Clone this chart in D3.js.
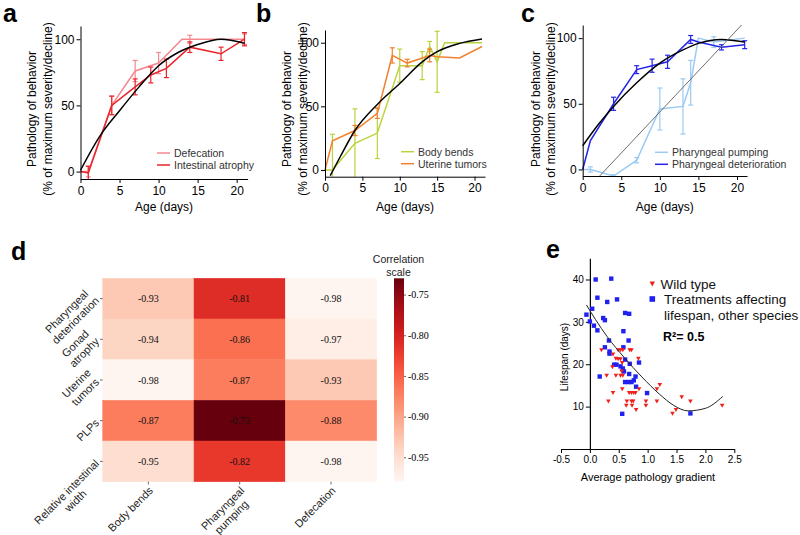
<!DOCTYPE html>
<html>
<head>
<meta charset="utf-8">
<script src="https://cdn.jsdelivr.net/npm/d3@7"></script>
<style>
  body { margin: 0; background: #fff; }
  svg { font-family: "Liberation Sans", Arial, sans-serif; }
  .serif { font-family: "Liberation Serif", "Times New Roman", serif; }
</style>
</head>
<body>
<svg id="fig" width="800" height="535"></svg>
<script>
'use strict';

// ---------- data ----------
var ageTicks = [0, 5, 10, 15, 20],
    pctTicks = [0, 50, 100];

// [day, % of max, error]
var defecation = [[0, 0, 0], [1, 0, 4], [4, 50, 7], [7, 76, 8], [10, 82, 8], [13, 100, 0], [14, 100, 3], [21, 100, 4]];
var intestinalAtrophy = [[0, 0, 0], [1, -1, 5], [4, 50, 7], [7, 64, 6], [9, 73, 6], [11, 78, 7], [14, 94, 4], [18, 89, 5], [21, 100, 5]];
var fitA = [[0, 1], [2.5, 27], [5, 46], [7.5, 64], [10, 80], [12.5, 90], [15, 96], [18, 100], [21, 97]];

var bodyBends = [[0, 0, 0], [1, 0, 28], [4, 21, 27], [7, 29, 20], [10, 82, 13], [11, 82, 0], [13, 82, 11], [14, 97, 4], [15, 85, 24], [16, 100, 0], [21, 100, 0]];
var uterineTumors = [[0, 0, 0], [1, 23, 0], [4, 31, 4], [7, 44.5, 4], [9, 90, 6], [11, 84, 3], [14, 90, 5], [15, 89, 0], [18, 88, 0], [21, 97, 0]];
var fitB = [[0.7, -4.5], [2, 10], [4, 31], [7, 51.5], [10, 68], [13, 85], [15, 93], [18, 99.5], [21, 103]];

var pharPumping = [[0, 0, 0], [1, 0, 2], [4, -5, 1], [7, 7, 2], [10, 46, 16], [13, 48, 21], [14, 66, 17], [15, 100, 0], [17, 97, 4], [21, 100, 0]];
var pharDeterioration = [[0, 0, 0], [1, 22, 0], [4, 50, 5], [7, 76, 3], [9, 79, 5], [11, 82, 5], [14, 99, 3], [15, 97, 0], [18, 93, 2], [21, 95, 3]];
var fitDeterioration = [[0, 18], [2, 34], [4, 48], [7, 66], [10, 81], [13, 91], [15, 96], [18, 99], [21, 97]];
var fitPumping = [[2.2, -5], [20.6, 110]];

var heatRows = ['Pharyngeal\ndeterioration', 'Gonad\natrophy', 'Uterine\ntumors', 'PLPs', 'Relative intestinal\nwidth'];
var heatCols = ['Body bends', 'Pharyngeal\npumping', 'Defecation'];
var heatVals = [
  [-0.93, -0.81, -0.98],
  [-0.94, -0.86, -0.97],
  [-0.98, -0.87, -0.93],
  [-0.87, -0.73, -0.88],
  [-0.95, -0.82, -0.98]
];
var cbarTicks = [-0.75, -0.80, -0.85, -0.90, -0.95];

// [average pathology gradient, lifespan (days)]
var wildType = [
  [0.20, 23.3], [0.49, 23.3], [0.53, 23.3], [0.57, 23.3], [0.69, 23.3], [0.72, 23.3], [0.40, 22.3], [0.45, 21.3],
  [0.49, 21.2], [0.53, 21.2], [0.84, 21.3], [0.39, 19.3], [0.56, 20.3], [0.29, 17.3], [0.45, 17.3], [0.53, 17.3],
  [0.57, 17.3], [0.55, 18.3], [0.56, 14.1], [0.85, 14.1], [1.16, 14.1], [1.21, 15.1], [0.40, 13.2], [0.68, 13.2],
  [0.72, 13.2], [0.76, 13.2], [0.79, 13.2], [0.32, 11.2], [0.64, 11.2], [0.72, 11.2], [0.75, 11.2], [0.97, 11.2],
  [1.16, 11.2], [1.59, 12.2], [1.74, 11.2], [0.63, 10.2], [0.73, 10.2], [0.97, 10.2], [2.29, 10.2], [0.80, 9.2],
  [1.49, 9.2], [1.43, 8.3]
];
var treatments = [
  [0.10, 40.0], [0.37, 40.2], [0.13, 35.7], [0.30, 34.7], [0.47, 35.3], [-0.06, 31.7], [0.04, 33.1], [0.00, 30.1],
  [0.07, 29.1], [0.13, 28.0], [0.23, 30.9], [0.26, 30.4], [0.61, 32.1], [0.68, 31.9], [0.58, 27.8], [0.67, 25.6],
  [0.33, 25.6], [0.26, 24.0], [0.34, 23.0], [0.34, 22.5], [0.58, 24.0], [0.42, 19.9], [0.46, 19.9], [0.53, 19.5],
  [0.57, 19.0], [0.59, 18.3], [0.61, 21.1], [0.68, 17.7], [0.69, 20.1], [0.85, 20.4], [0.17, 17.1], [0.79, 17.1],
  [0.61, 15.8], [0.67, 15.8], [0.72, 15.8], [0.76, 16.2], [0.80, 14.7], [0.99, 13.2], [0.56, 8.3], [1.74, 8.4]
];
var lifespanFit = [[-0.06, 34], [0.1, 30.5], [0.3, 26.5], [0.6, 21.5], [0.9, 17], [1.2, 13], [1.45, 10.3], [1.7, 9], [2.0, 9.6], [2.3, 12.4]];
var gradTicks = [-0.5, 0, 0.5, 1, 1.5, 2, 2.5],
    lifeTicks = [10, 20, 30, 40];

// ---------- drawing ----------
var svg = d3.select('#fig');

function panelLetter(txt, x, y) {
  svg.append('text').attr('x', x).attr('y', y).attr('font-size', 25).attr('font-weight', 'bold').text(txt);
}

function linePanel(cfg) {
  var g = svg.append('g'),
      x = d3.scaleLinear().domain(cfg.xDomain).range(cfg.xRange),
      y = d3.scaleLinear().domain(cfg.yDomain).range(cfg.yRange),
      yMin = cfg.yDomain[0], yMax = cfg.yDomain[1];

  cfg.series.forEach(function (s) {
    g.append('path').datum(s.data)
      .attr('fill', 'none').attr('stroke', s.color).attr('stroke-width', 1.5)
      .attr('d', d3.line().x(function (d) { return x(d[0]); }).y(function (d) { return y(d[1]); }));

    var bars = g.append('g').attr('stroke', s.color).attr('stroke-width', 1.2);
    s.data.filter(function (d) { return d[2] > 0; }).forEach(function (d) {
      var lo = Math.max(yMin, d[1] - d[2]), hi = Math.min(yMax, d[1] + d[2]), cx = x(d[0]);
      bars.append('line').attr('x1', cx).attr('x2', cx).attr('y1', y(lo)).attr('y2', y(hi));
      [lo, hi].forEach(function (v) {
        if (v > yMin && v < yMax) {
          bars.append('line').attr('x1', cx - 2.5).attr('x2', cx + 2.5).attr('y1', y(v)).attr('y2', y(v));
        }
      });
    });
  });

  cfg.fits.forEach(function (f) {
    g.append('path').datum(f.data)
      .attr('fill', 'none').attr('stroke', f.color).attr('stroke-width', f.width)
      .attr('d', d3.line().x(function (d) { return x(d[0]); }).y(function (d) { return y(d[1]); }).curve(d3.curveMonotoneX));
  });

  g.append('g').attr('transform', 'translate(0,' + cfg.yRange[0] + ')')
    .call(d3.axisBottom(x).tickValues(ageTicks).tickSize(4).tickPadding(3).tickSizeOuter(0))
    .attr('font-family', null).attr('font-size', 12);
  g.append('g').attr('transform', 'translate(' + cfg.xRange[0] + ',0)')
    .call(d3.axisLeft(y).tickValues(pctTicks).tickSize(4).tickPadding(2).tickSizeOuter(0))
    .attr('font-family', null).attr('font-size', 12);

  var cy = 109;
  g.append('text').attr('transform', 'translate(' + cfg.titleX[0] + ',' + cy + ') rotate(-90)')
    .attr('text-anchor', 'middle').attr('font-size', 12).text('Pathology of behavior');
  g.append('text').attr('transform', 'translate(' + cfg.titleX[1] + ',' + cy + ') rotate(-90)')
    .attr('text-anchor', 'middle').attr('font-size', 12).text('(% of maximum severity/decline)');
  g.append('text').attr('x', (cfg.xRange[0] + cfg.xRange[1]) / 2).attr('y', 211)
    .attr('text-anchor', 'middle').attr('font-size', 12).text('Age (days)');

  cfg.series.forEach(function (s, i) {
    var ly = cfg.legend[1] + i * 12;
    g.append('line').attr('x1', cfg.legend[0]).attr('x2', cfg.legend[0] + 13)
      .attr('y1', ly).attr('y2', ly).attr('stroke', s.color).attr('stroke-width', 1.5);
    g.append('text').attr('x', cfg.legend[0] + 17).attr('y', ly + 3.8)
      .attr('font-size', 10.5).attr('fill', '#333').text(s.name);
  });
}

linePanel({
  xDomain: [0, 21.4], xRange: [80.5, 247.6],
  yDomain: [-5.6, 110], yRange: [179, 26],
  titleX: [35.5, 51.5],
  legend: [157, 153],
  series: [
    { name: 'Defecation', color: '#f4888f', data: defecation },
    { name: 'Intestinal atrophy', color: '#e8242a', data: intestinalAtrophy }
  ],
  fits: [{ data: fitA, color: '#000', width: 1.5 }]
});

linePanel({
  xDomain: [0, 21.4], xRange: [325, 485],
  yDomain: [-5.3, 110], yRange: [176.7, 30],
  titleX: [290.5, 306.5],
  legend: [401, 151.7],
  series: [
    { name: 'Body bends', color: '#bcd23c', data: bodyBends },
    { name: 'Uterine tumors', color: '#f2812f', data: uterineTumors }
  ],
  fits: [{ data: fitB, color: '#000', width: 1.5 }]
});

linePanel({
  xDomain: [0, 21.3], xRange: [582.7, 747],
  yDomain: [-5, 110], yRange: [176, 25],
  titleX: [539.5, 555],
  legend: [655, 152.3],
  series: [
    { name: 'Pharyngeal pumping', color: '#9ccaf3', data: pharPumping },
    { name: 'Pharyngeal deterioration', color: '#2424e8', data: pharDeterioration }
  ],
  fits: [
    { data: fitDeterioration, color: '#000', width: 1.5 },
    { data: fitPumping, color: '#6e6e6e', width: 1 }
  ]
});

panelLetter('a', 3, 22);
panelLetter('b', 256, 22);
panelLetter('c', 521, 22);
panelLetter('d', 11, 260);
panelLetter('e', 546, 258);

// ---------- heatmap (d) ----------
var hx = d3.scaleBand().domain(d3.range(heatCols.length)).range([102.7, 376.7]),
    hy = d3.scaleBand().domain(d3.range(heatRows.length)).range([278.3, 481.7]),
    flat = [].concat.apply([], heatVals),
    heatColor = d3.scaleSequential(d3.interpolateReds).domain(d3.extent(flat));

var hg = svg.append('g');
heatVals.forEach(function (row, r) {
  row.forEach(function (v, c) {
    hg.append('rect').attr('x', hx(c)).attr('y', hy(r))
      .attr('width', hx.bandwidth()).attr('height', hy.bandwidth())
      .attr('fill', heatColor(v)).attr('stroke', heatColor(v)).attr('stroke-width', 0.5);
    hg.append('text').attr('class', 'serif')
      .attr('x', hx(c) + hx.bandwidth() / 2).attr('y', hy(r) + hy.bandwidth() / 2 + 3.5)
      .attr('text-anchor', 'middle').attr('font-size', 10).attr('fill', '#111')
      .text(v.toFixed(2));
  });
});

function rotatedLabel(parent, text, tx, ty, pick) {
  var lines = text.split('\n'), lh = 12.5,
      outer = parent.append('g'),
      inner = outer.append('g').attr('transform', 'rotate(-45)'),
      t = inner.append('text').attr('text-anchor', 'middle').attr('font-size', 11).attr('fill', '#222'),
      widths = [];
  lines.forEach(function (l, i) {
    var ts = t.append('tspan').attr('x', 0).attr('y', i * lh).text(l);
    widths.push(ts.node().getComputedTextLength());
  });
  var ends = lines.map(function (l, i) {
    var ex = widths[i] / 2, ey = i * lh - 4;
    return [Math.SQRT1_2 * (ex + ey), Math.SQRT1_2 * (ey - ex)];
  });
  var e = pick === 'first' ? ends[0] : ends.reduce(function (a, b) { return b[0] > a[0] ? b : a; });
  outer.attr('transform', 'translate(' + (tx - e[0]) + ',' + (ty - e[1]) + ')');
}

heatRows.forEach(function (lab, r) {
  var cy = hy(r) + hy.bandwidth() / 2;
  hg.append('line').attr('x1', 100).attr('x2', 102.7).attr('y1', cy).attr('y2', cy).attr('stroke', '#444').attr('stroke-width', 0.8);
  rotatedLabel(hg, lab, 97, cy, 'max');
});
heatCols.forEach(function (lab, c) {
  var cx = hx(c) + hx.bandwidth() / 2;
  hg.append('line').attr('x1', cx).attr('x2', cx).attr('y1', 481.7).attr('y2', 484.5).attr('stroke', '#444').attr('stroke-width', 0.8);
  rotatedLabel(hg, lab, cx + 2.5, 488.5, 'first');
});

// colour bar
var cb = d3.scaleLinear().domain(heatColor.domain()).range([481.7, 278.3]);
var grad = svg.append('defs').append('linearGradient').attr('id', 'cbar')
  .attr('x1', 0).attr('x2', 0).attr('y1', 1).attr('y2', 0);
d3.range(0, 1.0001, 0.05).forEach(function (t) {
  grad.append('stop').attr('offset', t).attr('stop-color', d3.interpolateReds(t));
});
hg.append('rect').attr('x', 394).attr('y', 278.3).attr('width', 10).attr('height', 203.4).attr('fill', 'url(#cbar)');
hg.append('g').attr('transform', 'translate(404,0)')
  .call(d3.axisRight(cb).tickValues(cbarTicks).tickSize(2).tickPadding(2).tickFormat(function (d) { return d.toFixed(2); }))
  .attr('font-family', null).attr('font-size', 10).attr('class', 'serif')
  .call(function (a) { a.select('.domain').remove(); a.selectAll('line').attr('stroke', '#666'); });
hg.append('text').attr('x', 398.5).attr('y', 263).attr('text-anchor', 'middle').attr('font-size', 10.5).attr('fill', '#222').text('Correlation');
hg.append('text').attr('x', 398.5).attr('y', 275.5).attr('text-anchor', 'middle').attr('font-size', 10.5).attr('fill', '#222').text('scale');

// ---------- scatter (e) ----------
var ex = d3.scaleLinear().domain([-0.5, 2.5]).range([561, 734.3]),
    ey = d3.scaleLinear().domain([0, 45]).range([449, 258.3]);
var eg = svg.append('g');

eg.append('g').attr('transform', 'translate(0,' + ey(0) + ')')
  .call(d3.axisBottom(ex).tickValues(gradTicks).tickSize(4).tickPadding(3).tickSizeOuter(0)
    .tickFormat(function (d) { return d.toFixed(1); }))
  .attr('font-family', null).attr('font-size', 10);
eg.append('g').attr('transform', 'translate(' + ex(0) + ',0)')
  .call(d3.axisLeft(ey).tickValues(lifeTicks).tickSize(4).tickPadding(2).tickSizeOuter(0))
  .attr('font-family', null).attr('font-size', 10)
  .call(function (a) { a.select('.domain').attr('stroke-width', 1.2); });

function triDown(cx, cy, w, h) {
  return 'M' + (cx - w / 2) + ',' + (cy - h / 2) + 'L' + (cx + w / 2) + ',' + (cy - h / 2) + 'L' + cx + ',' + (cy + h / 2) + 'Z';
}

eg.selectAll('rect.trt').data(treatments).enter().append('rect').attr('class', 'trt')
  .attr('x', function (d) { return ex(d[0]) - 2.2; }).attr('y', function (d) { return ey(d[1]) - 2.2; })
  .attr('width', 4.4).attr('height', 4.4).attr('fill', '#2020f0');
eg.selectAll('path.wt').data(wildType).enter().append('path').attr('class', 'wt')
  .attr('d', function (d) { return triDown(ex(d[0]), ey(d[1]), 4.6, 4); }).attr('fill', '#f0201c');

eg.append('path').datum(lifespanFit).attr('fill', 'none').attr('stroke', '#222').attr('stroke-width', 1)
  .attr('d', d3.line().x(function (d) { return ex(d[0]); }).y(function (d) { return ey(d[1]); }).curve(d3.curveMonotoneX));

eg.append('text').attr('transform', 'translate(567.5,357) rotate(-90)').attr('text-anchor', 'middle')
  .attr('font-size', 10).text('Lifespan (days)');
eg.append('text').attr('x', 648).attr('y', 481).attr('text-anchor', 'middle')
  .attr('font-size', 11).text('Average pathology gradient');

eg.append('path').attr('d', triDown(652.3, 284, 5.4, 4.8)).attr('fill', '#f0201c');
eg.append('text').attr('x', 660.5).attr('y', 289).attr('font-size', 13.5).attr('fill', '#111').text('Wild type');
eg.append('rect').attr('x', 649.5).attr('y', 296.2).attr('width', 5.6).attr('height', 5.6).attr('fill', '#2020f0');
eg.append('text').attr('x', 664).attr('y', 304).attr('font-size', 13.5).attr('fill', '#111').text('Treatments affecting');
eg.append('text').attr('x', 664).attr('y', 320).attr('font-size', 13.5).attr('fill', '#111').text('lifespan, other species');
eg.append('text').attr('x', 663).attr('y', 341).attr('font-size', 12.5).attr('font-weight', 'bold').text('R²= 0.5');
</script>
</body>
</html>
